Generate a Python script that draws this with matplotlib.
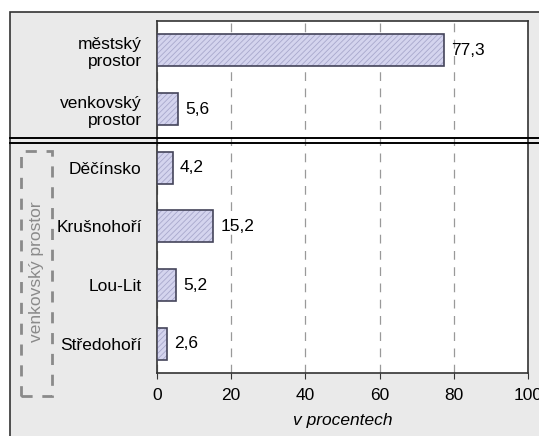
import matplotlib
matplotlib.use("Agg")
import matplotlib.pyplot as plt
from matplotlib.patches import Rectangle
from matplotlib.lines import Line2D

categories = ["městský\nprostor", "venkovský\nprostor", "Děčínsko", "Krušnohoří", "Lou-Lit", "Středohoří"]
values = [77.3, 5.6, 4.2, 15.2, 5.2, 2.6]
xticks = [0, 20, 40, 60, 80, 100]
xlabel = "v procentech"
group_label = "venkovský prostor"

plt.rcParams['font.family'] = ['Liberation Sans', 'DejaVu Sans']
plt.rcParams['hatch.linewidth'] = 0.6

FS = 12.5
W, H = 539, 436
fig = plt.figure(figsize=(W / 100, H / 100), dpi=100)
fig.patch.set_facecolor('white')

def fx(px):
    return px / W

def fy(py):
    return 1 - py / H

# gray outer panel
fig.add_artist(Rectangle((fx(10), fy(440)), fx(540) - fx(10), fy(12) - fy(440),
                         transform=fig.transFigure, facecolor='#EAEAEA',
                         edgecolor='#333333', lw=1.2, zorder=-10))

ax = fig.add_axes([fx(157), fy(373), fx(528) - fx(157), fy(21) - fy(373)])
ax.set_facecolor('white')

pos = list(range(len(categories)))
# hatched fill
ax.barh(pos, values, height=0.55, color='#D4D4EE', edgecolor='#A8A8CC',
        hatch='//////', lw=0, zorder=3)
# outline
ax.barh(pos, values, height=0.55, fill=False, edgecolor='#44445A', lw=1.2, zorder=4)

for p, v in zip(pos, values):
    ax.text(v + 2.0, p, f"{v:.1f}".replace('.', ','), va='center', ha='left',
            fontsize=FS, color='black', zorder=5)

ax.set_xlim(0, 100)
ax.set_ylim(len(categories) - 0.5, -0.5)
ax.set_xticks(xticks)
ax.set_xticklabels([str(t) for t in xticks], fontsize=FS)
ax.set_yticks(pos)
ax.set_yticklabels(categories, fontsize=FS, multialignment='right')
ax.tick_params(axis='y', length=0, pad=11)
ax.tick_params(axis='x', length=4, direction='out', pad=7, color='#333333')
ax.xaxis.grid(True, color='#999999', lw=0.9, dashes=(7, 6))
ax.set_axisbelow(True)
for s in ax.spines.values():
    s.set_color('#333333')
    s.set_linewidth(1.2)
ax.set_xlabel(xlabel, fontsize=FS, style='italic', labelpad=7)

# double separator line
for yy in (138, 143):
    fig.add_artist(Line2D([fx(10), fx(539)], [fy(yy), fy(yy)], transform=fig.transFigure,
                          color='black', lw=1.4, zorder=10))

# dashed group box
fig.add_artist(Rectangle((fx(21), fy(396)), fx(52) - fx(21), fy(151) - fy(396),
                         transform=fig.transFigure, fill=False, edgecolor='#8A8A8A',
                         lw=2, linestyle=(0, (4, 3.5)), zorder=10))
fig.text(fx(36.5), fy(272), group_label, rotation=90, ha='center', va='center',
         fontsize=FS, color='#8A8A8A')

fig.savefig("out.png", dpi=100)
